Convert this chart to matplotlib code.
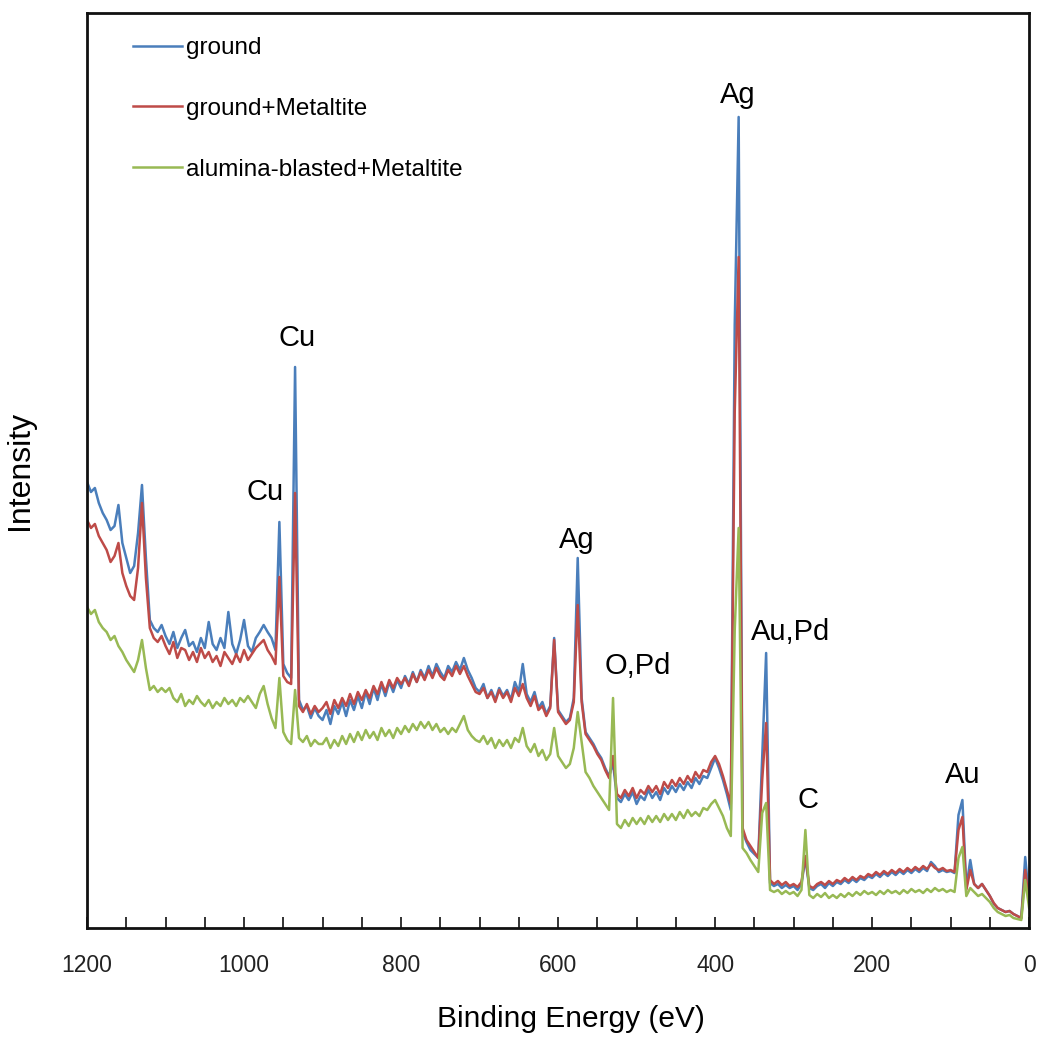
import numpy as np
import matplotlib
matplotlib.use("Agg")
import matplotlib.pyplot as plt
from matplotlib.ticker import MultipleLocator, FuncFormatter

plt.rcParams['font.family'] = ['Liberation Sans', 'DejaVu Sans']

# binding energy grid, 5 eV steps from 1200 down to 0
energy = np.arange(1200, -1, -5)

# intensity (arb. units)
ground = [
    446, 436, 440, 425, 415, 408, 398, 402, 423, 385, 370, 355, 362, 395, 443, 370, 308, 300, 296, 303,
    292, 284, 296, 280, 290, 298, 282, 286, 276, 290, 280, 306, 284, 278, 290, 280, 316, 284, 274, 288,
    308, 282, 276, 290, 296, 303, 296, 290, 278, 406, 264, 255, 250, 561, 228, 218, 222, 210, 220, 212,
    208, 218, 204, 222, 214, 226, 212, 228, 218, 232, 220, 236, 224, 240, 228, 244, 232, 246, 236, 248,
    240, 252, 244, 256, 246, 258, 250, 262, 252, 264, 256, 250, 262, 256, 266, 258, 270, 258, 250, 240,
    236, 244, 230, 238, 228, 240, 232, 238, 228, 246, 236, 264, 234, 226, 236, 220, 226, 214, 222, 290,
    218, 212, 206, 210, 230, 370, 230, 196, 190, 184, 176, 170, 160, 152, 165, 130, 126, 134, 128, 136,
    124, 132, 128, 138, 130, 136, 128, 140, 134, 142, 136, 144, 138, 146, 140, 150, 144, 152, 150, 160,
    170, 160, 148, 134, 118, 603, 811, 96, 86, 78, 74, 70, 171, 275, 45, 42, 44, 40, 43, 40,
    42, 38, 44, 70, 40, 38, 42, 44, 40, 45, 42, 46, 44, 48, 45, 49, 46, 50, 48, 52,
    50, 54, 51, 55, 52, 56, 53, 57, 54, 58, 55, 59, 56, 60, 57, 66, 62, 56, 58, 56,
    57, 55, 113, 128, 40, 68, 44, 40, 44, 38, 32, 24, 20, 18, 16, 17, 14, 12, 10, 71, 28,
]

ground_metaltite = [
    408, 400, 404, 392, 385, 378, 366, 372, 385, 355, 342, 332, 328, 360, 425, 350, 300, 290, 286, 292,
    282, 274, 286, 270, 280, 278, 268, 276, 266, 280, 270, 276, 266, 272, 262, 276, 270, 264, 274, 266,
    278, 268, 274, 280, 284, 288, 278, 272, 264, 351, 252, 246, 244, 435, 222, 216, 224, 214, 222, 216,
    220, 226, 214, 228, 220, 230, 222, 234, 224, 236, 228, 238, 230, 242, 234, 246, 236, 248, 240, 250,
    244, 250, 242, 254, 246, 256, 248, 258, 250, 260, 252, 248, 258, 252, 262, 254, 262, 252, 244, 236,
    234, 240, 230, 236, 226, 238, 230, 236, 226, 240, 232, 244, 230, 222, 232, 218, 222, 212, 220, 288,
    216, 210, 204, 208, 226, 323, 226, 194, 188, 182, 174, 168, 158, 150, 172, 134, 130, 138, 132, 140,
    130, 138, 134, 142, 136, 142, 134, 146, 140, 148, 142, 150, 144, 152, 146, 156, 150, 158, 156, 166,
    172, 164, 152, 138, 124, 516, 671, 100, 88, 82, 76, 70, 148, 205, 48, 44, 47, 43, 46, 42,
    44, 41, 46, 72, 42, 40, 44, 46, 43, 47, 44, 48, 46, 50, 47, 51, 48, 52, 50, 54,
    52, 56, 53, 57, 54, 58, 55, 59, 56, 60, 57, 61, 58, 62, 59, 64, 60, 58, 60, 57,
    58, 56, 98, 111, 38, 58, 44, 40, 44, 38, 32, 25, 20, 18, 16, 17, 14, 12, 10, 58, 26,
]

alumina_metaltite = [
    321, 314, 318, 306, 300, 296, 288, 292, 282, 276, 268, 262, 256, 268, 288, 260, 238, 242, 236, 240,
    236, 240, 230, 226, 234, 222, 228, 224, 232, 226, 222, 228, 220, 226, 222, 230, 224, 228, 222, 230,
    226, 232, 226, 220, 234, 242, 224, 210, 200, 250, 196, 188, 184, 238, 190, 186, 192, 182, 188, 184,
    184, 190, 180, 188, 182, 192, 184, 194, 186, 196, 188, 198, 190, 196, 188, 200, 192, 198, 190, 200,
    194, 202, 196, 204, 198, 206, 200, 206, 198, 204, 196, 200, 194, 200, 196, 204, 212, 198, 192, 188,
    186, 192, 184, 190, 180, 188, 182, 188, 180, 190, 186, 200, 182, 176, 184, 172, 178, 168, 174, 200,
    172, 166, 160, 164, 180, 216, 186, 156, 150, 142, 136, 130, 124, 118, 230, 104, 100, 108, 102, 110,
    104, 110, 104, 112, 106, 112, 106, 114, 108, 114, 108, 116, 110, 118, 112, 116, 112, 120, 118, 124,
    128, 120, 112, 100, 92, 298, 400, 80, 75, 68, 62, 56, 115, 125, 38, 36, 38, 34, 37, 34,
    36, 32, 38, 98, 33, 30, 34, 31, 35, 30, 33, 30, 34, 31, 35, 32, 36, 33, 37, 34,
    36, 33, 37, 34, 38, 35, 37, 34, 38, 35, 39, 36, 38, 35, 39, 36, 40, 37, 39, 36,
    38, 36, 70, 81, 32, 40, 36, 32, 34, 30, 26, 20, 16, 14, 12, 13, 10, 9, 8, 48, 20,
]

series_names = ['ground', 'ground+Metaltite', 'alumina-blasted+Metaltite']
series_colors = ['#4a7ebb', '#be4b48', '#98b954']

# peak labels: (text, energy, intensity)
peak_labels = [
    ('Ag', 371, 833), ('Cu', 932, 590), ('Cu', 973, 436), ('Ag', 576, 388),
    ('O,Pd', 498, 262), ('Au,Pd', 304, 296), ('C', 282, 128), ('Au', 85, 153),
]

fig = plt.figure(figsize=(10.41, 10.37), dpi=100)
ax = fig.add_axes([0.0836, 0.1051, 0.905, 0.8824])

for vals, name, col in zip([ground, ground_metaltite, alumina_metaltite], series_names, series_colors):
    ax.plot(energy, vals, color=col, lw=1.8, label=name)

for txt, x, y in peak_labels:
    ax.text(x, y, txt, fontsize=21, ha='center', va='center')

ax.set_xlim(1200, 0)
ax.set_ylim(0, 915)
ax.set_yticks([])
ax.xaxis.set_major_locator(MultipleLocator(50))
ax.xaxis.set_major_formatter(FuncFormatter(lambda v, p: '%d' % v if int(round(v)) % 200 == 0 else ''))
ax.tick_params(axis='x', direction='in', length=8, width=1.3, labelsize=16.5, pad=19, colors='#222222')
for s in ax.spines.values():
    s.set_linewidth(2)
    s.set_color('#111111')

ax.set_xlabel('Binding Energy (eV)', fontsize=21.5)
ax.xaxis.set_label_coords(0.514, -0.084)
ax.set_ylabel('Intensity', fontsize=23)
ax.yaxis.set_label_coords(-0.055, 0.5)

ax.legend(loc='upper left', frameon=False, fontsize=17.5, labelspacing=1.59,
          handlelength=2.0, handletextpad=0.2, borderaxespad=0.0, bbox_to_anchor=(0.0385, 0.984))

fig.savefig('out.png', dpi=100)
